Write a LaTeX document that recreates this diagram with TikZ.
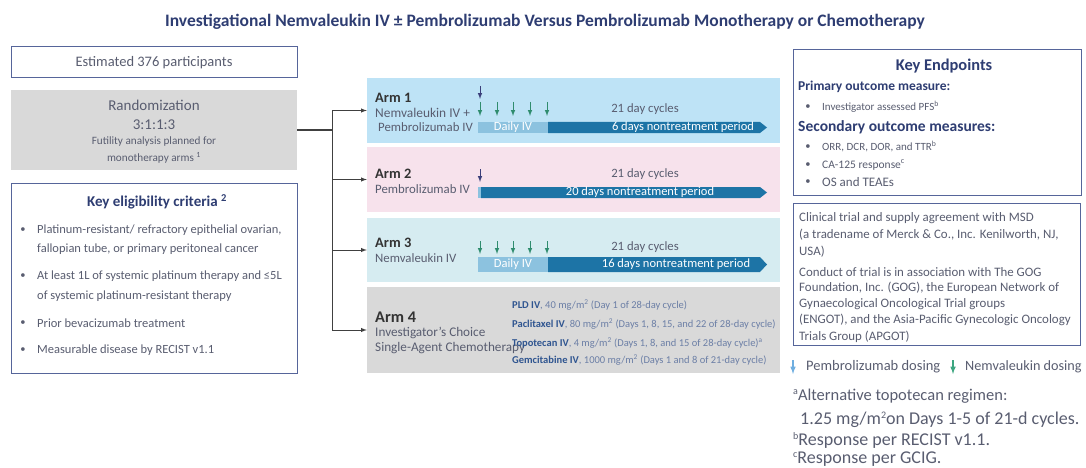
\documentclass[tikz,border=0pt]{standalone}
\usepackage{fontspec}
\setmainfont{Carlito}
\usepackage{tikz}
\usetikzlibrary{calc}
\usetikzlibrary{arrows}

\definecolor{navy}{HTML}{2E3D72}
\definecolor{txt}{HTML}{595D70}
\definecolor{frame}{HTML}{56659A}
\definecolor{randgray}{HTML}{D9D9D9}
\definecolor{armone}{HTML}{BEE3F6}
\definecolor{armtwo}{HTML}{F7E2EC}
\definecolor{armthree}{HTML}{D6ECF1}
\definecolor{bardark}{HTML}{1D74A6}
\definecolor{barlight}{HTML}{8CC2DF}
\definecolor{nemgreen}{HTML}{2F8C6E}
\definecolor{pemnavy}{HTML}{3B3F7A}
\definecolor{legblue}{HTML}{6FAEE0}
\definecolor{leggreen}{HTML}{3DA680}
\definecolor{regbold}{HTML}{2F5590}
\definecolor{regtxt}{HTML}{6C7FA6}

\newcommand\fsz[1]{\fontsize{#1}{#1}\selectfont}
\newcommand\fnmark[1]{{\fsz{10}\raisebox{6pt}{#1}}}

\tikzset{
  framebox/.style={draw=frame,line width=1pt,fill=white,inner sep=0pt},
  armbox/.style={inner sep=0pt,minimum width=413pt},
  plain/.style={text=txt,inner sep=0pt},
  pemarrow/.style={draw=pemnavy,line width=1pt,-latex},
  nemarrow/.style={draw=nemgreen,line width=1pt,-latex},
  bartext/.style={text=white,inner sep=0pt,font=\fsz{12.5}},
}

\begin{document}
\begin{tikzpicture}[x=1pt,y=-1pt]
\useasboundingbox (0,0) rectangle (1086,468);

\node[text=navy,inner sep=0pt,font=\fsz{17.5}\bfseries] (title) at (545,22) {Investigational Nemvaleukin IV ± Pembrolizumab Versus Pembrolizumab Monotherapy or Chemotherapy};

\node[framebox,minimum width=286pt,minimum height=31pt,text=txt,font=\fsz{14.5}] (est) at (154,62.5) {Estimated 376 participants};

\node[fill=randgray,minimum width=286pt,minimum height=80pt,inner sep=0pt] (rand) at (154,130) {};
\node[plain,font=\fsz{15}] at (154,105) {Randomization};
\node[plain,font=\fsz{15}] at (154,125) {3:1:1:3};
\node[plain,font=\fsz{11.2}] at (154,142) {Futility analysis planned for};
\node[plain,font=\fsz{11.2}] at (154,158) {monotherapy arms \textsuperscript{1}};

\node[framebox,minimum width=286pt,minimum height=190pt] (elig) at (154,278) {};
\node[text=navy,inner sep=0pt,font=\fsz{15}\bfseries] at (157,202) {Key eligibility criteria \textsuperscript{2}};
\foreach \y/\t in {230/{Platinum-resistant/ refractory epithelial ovarian,},
                   276/{At least 1L of systemic platinum therapy and ≤5L},
                   323/{Prior bevacizumab treatment},
                   350/{Measurable disease by RECIST v1.1}}
  {\node[plain,font=\fsz{10.5}] at (23,\y) {\textbullet};
   \node[plain,anchor=west,font=\fsz{12.5}] at (37,\y) {\t};}
\node[plain,anchor=west,font=\fsz{12.5}] at (37,249) {fallopian tube, or primary peritoneal cancer};
\node[plain,anchor=west,font=\fsz{12.5}] at (37,296) {of systemic platinum-resistant therapy};

\node[armbox,fill=armone,minimum height=65pt] (arm1) at (573.5,110.5) {};
\node[armbox,fill=armtwo,minimum height=65pt] (arm2) at (573.5,179.5) {};
\node[armbox,fill=armthree,minimum height=64pt] (arm3) at (573.5,250) {};
\node[armbox,fill=randgray,minimum height=86pt] (arm4) at (573.5,330) {};

\coordinate (split) at (332,130);
\draw[line width=1pt,draw=black!75] (rand.east) -- (split);
\foreach \a in {arm1,arm2,arm3,arm4}
  \draw[line width=1pt,draw=black!75,-latex] (split) |- (\a.west);

\node[text=black!80,inner sep=0pt,anchor=west,font=\fsz{14.4}\bfseries] at (375,98) {Arm 1};
\node[plain,anchor=west,font=\fsz{13.4}] at (375,113) {Nemvaleukin IV +};
\node[plain,anchor=west,font=\fsz{12.8}] at (378,127) {Pembrolizumab IV};
\draw[pemarrow] (480,86) -- (480,99);
\foreach \x in {480,497,513,530,547} \draw[nemarrow] (\x,102) -- (\x,116);
\node[plain,font=\fsz{12.7}] at (645,109) {21 day cycles};
\fill[barlight] (478,122) rectangle (548,133);
\fill[bardark] (548,122) -- (760,122) -- (767,127.5) -- (760,133) -- (548,133) -- cycle;
\node[bartext] at (513,127.5) {Daily IV};
\node[bartext] at (683,127.5) {6 days nontreatment period};

\node[text=black!80,inner sep=0pt,anchor=west,font=\fsz{14.4}\bfseries] at (375,174) {Arm 2};
\node[plain,anchor=west,font=\fsz{12.8}] at (375,189) {Pembrolizumab IV};
\draw[pemarrow] (480,169) -- (480,182);
\node[plain,font=\fsz{12.7}] at (645,174) {21 day cycles};
\fill[barlight] (478,187) rectangle (481,198);
\fill[bardark] (481,187) -- (760,187) -- (767,192.5) -- (760,198) -- (481,198) -- cycle;
\node[bartext] at (640,192.5) {20 days nontreatment period};

\node[text=black!80,inner sep=0pt,anchor=west,font=\fsz{14.4}\bfseries] at (375,243) {Arm 3};
\node[plain,anchor=west,font=\fsz{12.8}] at (375,258) {Nemvaleukin IV};
\foreach \x in {480,497,513,530,547} \draw[nemarrow] (\x,241) -- (\x,254);
\node[plain,font=\fsz{12.7}] at (645,247) {21 day cycles};
\fill[barlight] (478,257) rectangle (548,272);
\fill[bardark] (548,257) -- (760,257) -- (767,264.5) -- (760,272) -- (548,272) -- cycle;
\node[bartext] at (513,264.5) {Daily IV};
\node[bartext] at (676,264.5) {16 days nontreatment period};

\node[text=black!80,inner sep=0pt,anchor=west,font=\fsz{16.3}\bfseries] at (375,317) {Arm 4};
\node[plain,anchor=west,font=\fsz{13.2}] at (375,333) {Investigator's Choice};
\node[plain,anchor=west,font=\fsz{13.2}] at (375,348) {Single-Agent Chemotherapy};
\foreach \y/\b/\t in {305/{PLD IV}/{, 40 mg/m\textsuperscript{2} (Day 1 of 28-day cycle)},
                      324/{Paclitaxel IV}/{, 80 mg/m\textsuperscript{2} (Days 1, 8, 15, and 22 of 28-day cycle)},
                      343/{Topotecan IV}/{, 4 mg/m\textsuperscript{2} (Days 1, 8, and 15 of 28-day cycle)\textsuperscript{a}},
                      360/{Gemcitabine IV}/{, 1000 mg/m\textsuperscript{2} (Days 1 and 8 of 21-day cycle)}}
  \node[text=regtxt,inner sep=0pt,anchor=west,font=\fsz{10.5}] at (512,\y) {\textcolor{regbold}{\bfseries\b}\t};

\node[framebox,minimum width=288pt,minimum height=145pt] (key) at (937,122.5) {};
\node[text=navy,inner sep=0pt,font=\fsz{16.4}\bfseries] at (944,66) {Key Endpoints};
\node[text=navy,inner sep=0pt,anchor=west,font=\fsz{13.5}\bfseries] at (798,87) {Primary outcome measure:};
\node[text=navy,inner sep=0pt,anchor=west,font=\fsz{15.5}\bfseries] at (798,127) {Secondary outcome measures:};
\foreach \y/\t/\s in {107/{Investigator assessed PFS\textsuperscript{b}}/11,
                      147/{ORR, DCR, DOR, and TTR\textsuperscript{b}}/11,
                      165/{CA-125 response\textsuperscript{c}}/11.5,
                      182/{OS and TEAEs}/13}
  {\node[plain,font=\fsz{10.5}] at (808,\y) {\textbullet};
   \node[plain,anchor=west,font=\fsz{\s}] at (822,\y) {\t};}

\node[framebox,minimum width=287pt,minimum height=142pt] (collab) at (936.5,274) {};
\foreach \y/\t in {218/{Clinical trial and supply agreement with MSD},
                   235/{(a tradename of Merck \& Co., Inc. Kenilworth, NJ,},
                   252/{USA)},
                   272/{Conduct of trial is in association with The GOG},
                   288/{Foundation, Inc. (GOG), the European Network of},
                   304/{Gynaecological Oncological Trial groups},
                   320/{(ENGOT), and the Asia-Pacific Gynecologic Oncology},
                   337/{Trials Group (APGOT)}}
  \node[plain,anchor=west,font=\fsz{12.9}] at (799,\y) {\t};

\draw[draw=legblue,line width=1.5pt,-latex] (793,360) -- (793,374);
\node[plain,anchor=west,font=\fsz{14.5}] (legpem) at (806,367) {Pembrolizumab dosing};
\draw[draw=leggreen,line width=1.5pt,-latex] (953,360) -- (953,374);
\node[plain,anchor=west,font=\fsz{14.2}] (legnem) at (965,367) {Nemvaleukin dosing};

\node[plain,anchor=west,font=\fsz{16.5}] at (793,396) {\fnmark{a}Alternative topotecan regimen:};
\node[plain,anchor=west,font=\fsz{18}] at (800,420) {1.25 mg/m\fnmark{2}on Days 1-5 of 21-d cycles.};
\node[plain,anchor=west,font=\fsz{18}] at (793,440) {\fnmark{b}Response per RECIST v1.1.};
\node[plain,anchor=west,font=\fsz{18}] at (793,459) {\fnmark{c}Response per GCIG.};
\end{tikzpicture}
\end{document}
